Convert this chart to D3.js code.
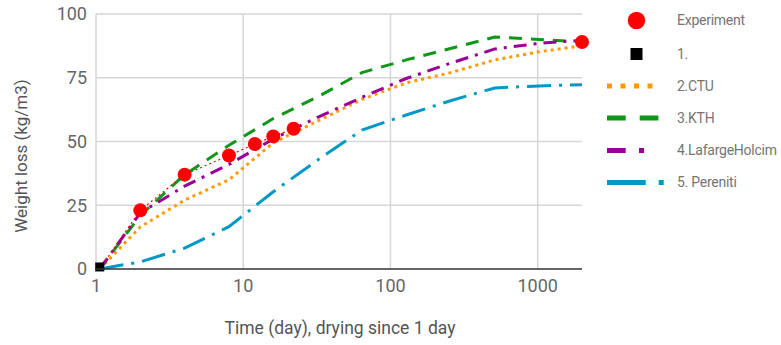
<!DOCTYPE html>
<html>
<head>
<meta charset="utf-8">
<script src="https://cdn.jsdelivr.net/npm/d3@7"></script>
<style>
  body { margin: 0; background: #fff; }
  text { font-family: Roboto, "Noto Sans", sans-serif; }
</style>
</head>
<body>
<div id="chart"></div>
<script>
// model time grid (days) and series values (kg/m3)
const days = [1.06, 2, 4, 8, 16, 32, 64, 128, 256, 512, 1024, 2000];
const ctu = [0, 16.5, 27, 35, 49.5, 58, 66.5, 73, 77, 82, 85.2, 87.5];
const kth = [0, 21, 37, 48.5, 59, 67.5, 77, 82, 86.5, 91, 90, 89];
const lafarge = [0, 22, 32.5, 41, 51, 59.5, 67.3, 74.7, 80.7, 86.3, 88.5, 89.7];
const pereniti = [0, 2.8, 8.2, 16.6, 30.3, 42.7, 54.5, 60.4, 66, 71, 71.8, 72.3];

// measured points
const expDays = [1.06, 2, 4, 8, 12, 16, 22];
const expValues = [0, 23, 37, 44.5, 49, 52, 55];
const expLastDay = 2000;
const expLastValue = 89;

const originDay = [1.06];
const originValue = [0.8];

const xTicks = [1, 10, 100, 1000];
const yTicks = [0, 25, 50, 75, 100];

const width = 781, height = 345;
const svg = d3.select("#chart").append("svg").attr("width", width).attr("height", height);

const x = d3.scaleLog().domain([1, 2000]).range([96, 582]);
const y = d3.scaleLinear().domain([0, 100]).range([269, 14]);

// gridlines
svg.append("g").selectAll("line").data(yTicks.slice(1)).enter().append("line")
    .attr("x1", x(1)).attr("x2", x(2000))
    .attr("y1", d => y(d)).attr("y2", d => y(d))
    .attr("stroke", "#d6d6d6").attr("stroke-width", 1.5);
svg.append("g").selectAll("line").data(xTicks).enter().append("line")
    .attr("x1", d => x(d)).attr("x2", d => x(d))
    .attr("y1", y(0)).attr("y2", y(100))
    .attr("stroke", "#d6d6d6").attr("stroke-width", 1.5);

// tick labels
svg.append("g").selectAll("text").data(yTicks).enter().append("text")
    .attr("x", 87).attr("y", d => y(d)).attr("dy", "0.35em")
    .attr("text-anchor", "end").attr("font-size", 18).attr("fill", "#666")
    .text(d => d);
svg.append("g").selectAll("text").data(xTicks).enter().append("text")
    .attr("x", d => x(d)).attr("y", 286).attr("dy", "0.35em")
    .attr("text-anchor", "middle").attr("font-size", 18).attr("fill", "#666")
    .text(d => d);

// axis titles
svg.append("text").attr("transform", "translate(21,156) rotate(-90)")
    .attr("text-anchor", "middle").attr("dy", "0.35em")
    .attr("font-size", 17).attr("fill", "#555").text("Weight loss (kg/m3)");
svg.append("text").attr("x", 340).attr("y", 328).attr("dy", "0.35em")
    .attr("text-anchor", "middle").attr("font-size", 17.5).attr("fill", "#555")
    .text("Time (day), drying since 1 day");

const series = [
  { name: "2.CTU", values: ctu, color: "#ff9900", dash: "3,4", legendDash: "5,8.5" },
  { name: "3.KTH", values: kth, color: "#109618", dash: "13,9", legendDash: "18.7,14" },
  { name: "4.LafargeHolcim", values: lafarge, color: "#990099", dash: "13,7,3,7", legendDash: "18.7,13.3,5,13.3" },
  { name: "5. Pereniti", values: pereniti, color: "#0099c6", dash: "24,8,3,8", legendDash: "38.7,13,5,13" }
];

const line = d3.line().x(d => x(d[0])).y(d => y(d[1]));

const plot = svg.append("g");

series.forEach(s => {
  plot.append("path")
      .datum(days.map((d, i) => [d, s.values[i]]))
      .attr("d", line)
      .attr("fill", "none")
      .attr("stroke", s.color)
      .attr("stroke-width", 3)
      .attr("stroke-dasharray", s.dash);
});

// experiment dotted connector
plot.append("path")
    .datum(expDays.map((d, i) => [d, expValues[i]]))
    .attr("d", line)
    .attr("fill", "none")
    .attr("stroke", "#ff0000")
    .attr("stroke-width", 1.2)
    .attr("stroke-dasharray", "2,3");

// baseline
svg.append("line").attr("x1", x(1)).attr("x2", x(2000))
    .attr("y1", y(0)).attr("y2", y(0)).attr("stroke", "#333").attr("stroke-width", 1.5);

// experiment markers
plot.selectAll("circle.exp")
    .data(expDays.slice(1).map((d, i) => [d, expValues[i + 1]]).concat([[expLastDay, expLastValue]]))
    .enter().append("circle")
    .attr("class", "exp")
    .attr("cx", d => x(d[0])).attr("cy", d => y(d[1]))
    .attr("r", 7).attr("fill", "#ff0000");

// series 1. marker
plot.selectAll("rect.origin")
    .data(originDay.map((d, i) => [d, originValue[i]]))
    .enter().append("rect")
    .attr("class", "origin")
    .attr("x", d => x(d[0]) - 4.5).attr("y", d => y(d[1]) - 4.5)
    .attr("width", 9).attr("height", 9).attr("fill", "#000");

// legend
const legend = svg.append("g");
const legendY = [20.5, 54, 86, 118, 150.5, 182.5];
const lx = 677;

legend.append("circle").attr("cx", 636.5).attr("cy", legendY[0]).attr("r", 8.7).attr("fill", "#ff0000");
legend.append("rect").attr("x", 630.5).attr("y", legendY[1] - 6).attr("width", 12).attr("height", 12).attr("fill", "#000");

const legendEnds = [653, 659, 646, 665];
series.forEach((s, i) => {
  legend.append("line")
      .attr("x1", 607).attr("x2", legendEnds[i])
      .attr("y1", legendY[i + 2]).attr("y2", legendY[i + 2])
      .attr("stroke", s.color).attr("stroke-width", 5)
      .attr("stroke-dasharray", s.legendDash);
});

const legendNames = ["Experiment", "1."].concat(series.map(s => s.name));
legend.selectAll("text").data(legendNames).enter().append("text")
    .attr("x", lx).attr("y", (d, i) => legendY[i]).attr("dy", "0.35em")
    .attr("font-size", 14).attr("letter-spacing", -0.25).attr("fill", "#757575")
    .text(d => d);
</script>
</body>
</html>
